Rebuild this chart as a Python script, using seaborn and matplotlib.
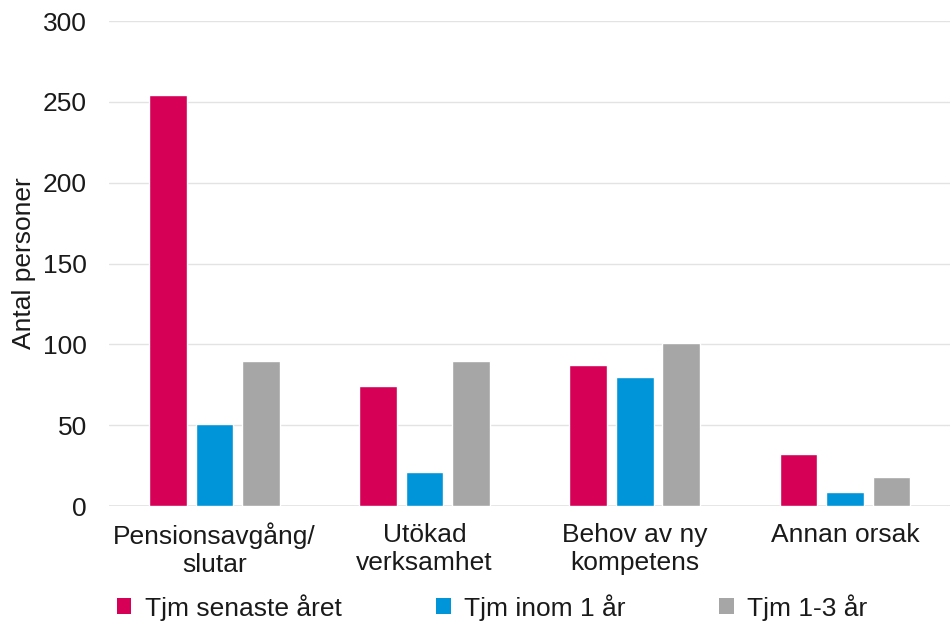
import matplotlib
matplotlib.use("Agg")
import matplotlib.pyplot as plt
from matplotlib.patches import Patch
import seaborn as sns
import pandas as pd

categories = ["Pensionsavgång/\nslutar", "Utökad\nverksamhet", "Behov av ny\nkompetens", "Annan orsak"]
series_names = ["Tjm senaste året", "Tjm inom 1 år", "Tjm 1-3 år"]
senaste_aret = [254, 74, 87, 32]
inom_1_ar = [51, 21, 80, 9]
ar_1_3 = [90, 90, 101, 18]
colors = ["#D70057", "#0094D8", "#A6A6A6"]

rows = []
for name, vals in zip(series_names, [senaste_aret, inom_1_ar, ar_1_3]):
    for cat, v in zip(categories, vals):
        rows.append({"Orsak": cat, "Serie": name, "Antal": v})
df = pd.DataFrame(rows)

sns.set_theme(style="white")
plt.rcParams["font.family"] = ["Liberation Sans", "DejaVu Sans"]

FS = 19
TXT = "#1a1a1a"

fig = plt.figure(figsize=(9.5, 6.21), dpi=100)
ax = fig.add_axes([0.115, 0.185, 0.885, 0.781])

sns.barplot(data=df, x="Orsak", y="Antal", hue="Serie", order=categories,
            hue_order=series_names, palette=colors, width=0.663, gap=0.19,
            saturation=1, ax=ax, legend=False)

ax.set_ylim(0, 300)
ax.set_xlim(-0.5, 3.5)
ax.set_yticks(range(0, 301, 50))
ax.yaxis.grid(True, color="#E3E3E3", linewidth=1)
ax.set_axisbelow(True)
for s in ax.spines.values():
    s.set_visible(False)
ax.axhline(0, color="#E3E3E3", linewidth=1.2, zorder=0.5)

ax.tick_params(axis="y", labelsize=FS, colors=TXT, length=0, pad=16)
ax.tick_params(axis="x", labelsize=FS, colors=TXT, length=0, pad=12)
for lbl in ax.get_xticklabels():
    lbl.set_linespacing(1.2)
ax.set_xlabel("")
ax.set_ylabel("Antal personer", fontsize=FS, color=TXT, labelpad=5)

# legend entries spread along the bottom row
legend_x = [0.123, 0.459, 0.757]
for name, c, x in zip(series_names, colors, legend_x):
    fig.legend(handles=[Patch(facecolor=c, edgecolor="none")], labels=[name],
               loc="center left", bbox_to_anchor=(x, 0.022), frameon=False,
               fontsize=FS, handlelength=0.55, handleheight=0.55,
               handletextpad=0.5, borderaxespad=0, borderpad=0,
               labelcolor=TXT)

fig.savefig("out.png", dpi=100)
